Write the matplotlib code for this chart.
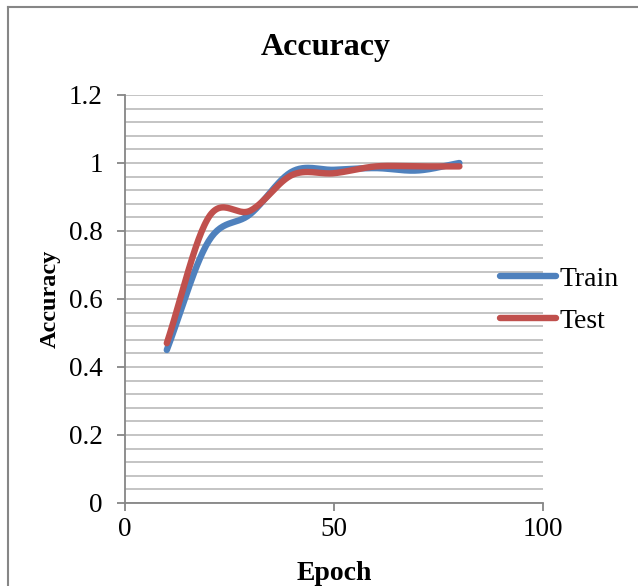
import numpy as np
import matplotlib.pyplot as plt
from matplotlib.ticker import MultipleLocator

# values
epochs = [10, 20, 30, 40, 50, 60, 70, 80]
train_acc = [0.45, 0.77, 0.85, 0.975, 0.98, 0.985, 0.978, 1.0]
test_acc = [0.47, 0.84, 0.86, 0.965, 0.97, 0.99, 0.99, 0.99]


def smooth(x, y, n=30):
    # Catmull-Rom style smoothing like Excel's "smoothed line"
    x = np.asarray(x, float)
    y = np.asarray(y, float)
    px = np.concatenate([[2 * x[0] - x[1]], x, [2 * x[-1] - x[-2]]])
    py = np.concatenate([[2 * y[0] - y[1]], y, [2 * y[-1] - y[-2]]])
    xs, ys = [], []
    t = np.linspace(0, 1, n)
    for i in range(1, len(px) - 2):
        p0, p1, p2, p3 = [np.array([px[j], py[j]]) for j in range(i - 1, i + 3)]
        c1 = p1 + (p2 - p0) / 6
        c2 = p2 - (p3 - p1) / 6
        b = ((1 - t) ** 3)[:, None] * p1 + (3 * (1 - t) ** 2 * t)[:, None] * c1 \
            + (3 * (1 - t) * t ** 2)[:, None] * c2 + (t ** 3)[:, None] * p2
        xs.extend(b[:, 0])
        ys.extend(b[:, 1])
    return xs, ys


plt.rcParams['font.family'] = 'Liberation Serif'

fig = plt.figure(figsize=(6.38, 5.86), dpi=100)
ax = fig.add_axes([125 / 638, 1 - 503 / 586, 418 / 638, 408 / 586])

sx, sy = smooth(epochs, train_acc)
ax.plot(sx, sy, color='#4F81BD', lw=4.6, solid_capstyle='round', label='Train', zorder=3)
sx, sy = smooth(epochs, test_acc)
ax.plot(sx, sy, color='#C0504D', lw=4.6, solid_capstyle='round', label='Test', zorder=4)

ax.set_xlim(0, 100)
ax.set_ylim(0, 1.2)
ax.xaxis.set_major_locator(MultipleLocator(50))
ax.yaxis.set_minor_locator(MultipleLocator(0.04))
ax.set_yticks([0, 0.2, 0.4, 0.6, 0.8, 1.0, 1.2])
ax.set_yticklabels(['0', '0.2', '0.4', '0.6', '0.8', '1', '1.2'])
ax.grid(axis='y', which='both', color='#BFBFBF', lw=1.3)
ax.set_axisbelow(True)

for s in ['top', 'right']:
    ax.spines[s].set_visible(False)
for s in ['left', 'bottom']:
    ax.spines[s].set_color('#868686')
    ax.spines[s].set_linewidth(1.3)
ax.tick_params(which='major', length=6, width=1.3, color='#868686', labelsize=19.5)
ax.tick_params(axis='y', which='major', pad=10)
ax.tick_params(axis='x', which='major', pad=4)
ax.tick_params(axis='y', which='minor', length=0)

ax.set_xlabel('Epoch', fontsize=20, fontweight='bold', labelpad=14)
ax.set_ylabel('Accuracy', fontsize=17.5, fontweight='bold', labelpad=6)
fig.text(326 / 638, 1 - 48 / 586, 'Accuracy', fontsize=23, fontweight='bold',
         ha='center', va='center')

fig.legend(loc='center left', bbox_to_anchor=(489 / 638, 1 - 300 / 586), frameon=False,
           fontsize=20, handlelength=2.0, handletextpad=0.15, labelspacing=0.6,
           borderaxespad=0)

# chart area border (left and top edges visible)
fig.add_artist(plt.Line2D([8 / 638, 8 / 638], [0, 1 - 7 / 586], color='#868686', lw=1.5))
fig.add_artist(plt.Line2D([8 / 638, 1], [1 - 7 / 586, 1 - 7 / 586], color='#868686', lw=1.5))

fig.savefig('out.png', dpi=100)
